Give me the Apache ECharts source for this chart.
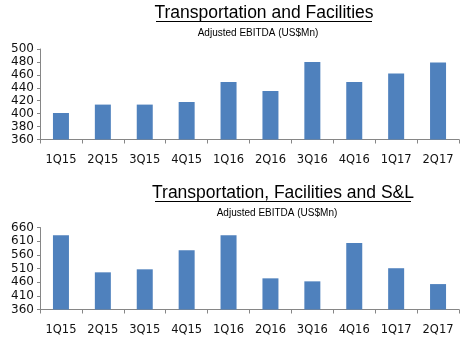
<!DOCTYPE html>
<html><head><meta charset="utf-8">
<script src="https://cdn.jsdelivr.net/npm/echarts@6/dist/echarts.min.js"></script>
<style>html,body{margin:0;padding:0;background:#fff}#c{width:467px;height:363px}</style>
</head><body><div id="c"></div>
<script>
const categories = ['1Q15','2Q15','3Q15','4Q15','1Q16','2Q16','3Q16','4Q16','1Q17','2Q17'];
const tfValues = [401, 414, 414, 418, 449, 435, 480, 449, 462, 479];
const tfslValues = [632, 496, 507, 577, 632, 474, 463, 603, 511, 453];
const title1 = 'Transportation and Facilities';
const title2 = 'Transportation, Facilities and S&L';
const subtitle = 'Adjusted EBITDA (US$Mn)';

const font = 'Liberation Sans';
const axisFont = 'DejaVu Sans';
const axisCol = '#868686';
function xAxis(i){return {type:'category',gridIndex:i,data:categories,boundaryGap:true,
  axisLine:{lineStyle:{color:axisCol}},axisTick:{show:true,length:4,lineStyle:{color:axisCol}},
  axisLabel:{color:'#111',fontFamily:axisFont,fontSize:11.5,margin:15}};}
function yAxis(i,min,max,interval){return {type:'value',gridIndex:i,min:min,max:max,interval:interval,
  axisLine:{show:true,lineStyle:{color:axisCol}},axisTick:{show:true,length:3,lineStyle:{color:axisCol}},
  splitLine:{show:false},axisLabel:{color:'#111',fontFamily:axisFont,fontSize:12,margin:6}};}
const tStyle = {fontFamily:font,fontSize:17.5,fontWeight:'normal',color:'#000'};
const sStyle = {fontFamily:font,fontSize:10,fontWeight:'normal',color:'#000'};
const chart = echarts.init(document.getElementById('c'));
chart.setOption({
  animation:false,
  title:[
    {text:title1,left:264,top:4,padding:0,textAlign:'center',textStyle:tStyle},
    {text:subtitle,left:258,top:28,padding:0,textAlign:'center',textStyle:sStyle},
    {text:title2,left:283,top:184,padding:0,textAlign:'center',textStyle:tStyle},
    {text:subtitle,left:277,top:208,padding:0,textAlign:'center',textStyle:sStyle}
  ],
  graphic:[
    {type:'line',shape:{x1:156,y1:21.5,x2:372,y2:21.5},style:{stroke:'#000',lineWidth:1}},
    {type:'line',shape:{x1:155,y1:201.5,x2:411,y2:201.5},style:{stroke:'#000',lineWidth:1}}
  ],
  grid:[
    {left:40,right:8,top:49,height:90.5},
    {left:40,right:8,top:227.5,height:82}
  ],
  xAxis:[xAxis(0),xAxis(1)],
  yAxis:[yAxis(0,360,500,20),yAxis(1,360,660,50)],
  series:[
    {type:'bar',xAxisIndex:0,yAxisIndex:0,data:tfValues,barWidth:16,itemStyle:{color:'#4F81BD'}},
    {type:'bar',xAxisIndex:1,yAxisIndex:1,data:tfslValues,barWidth:16,itemStyle:{color:'#4F81BD'}}
  ]
});
</script></body></html>
